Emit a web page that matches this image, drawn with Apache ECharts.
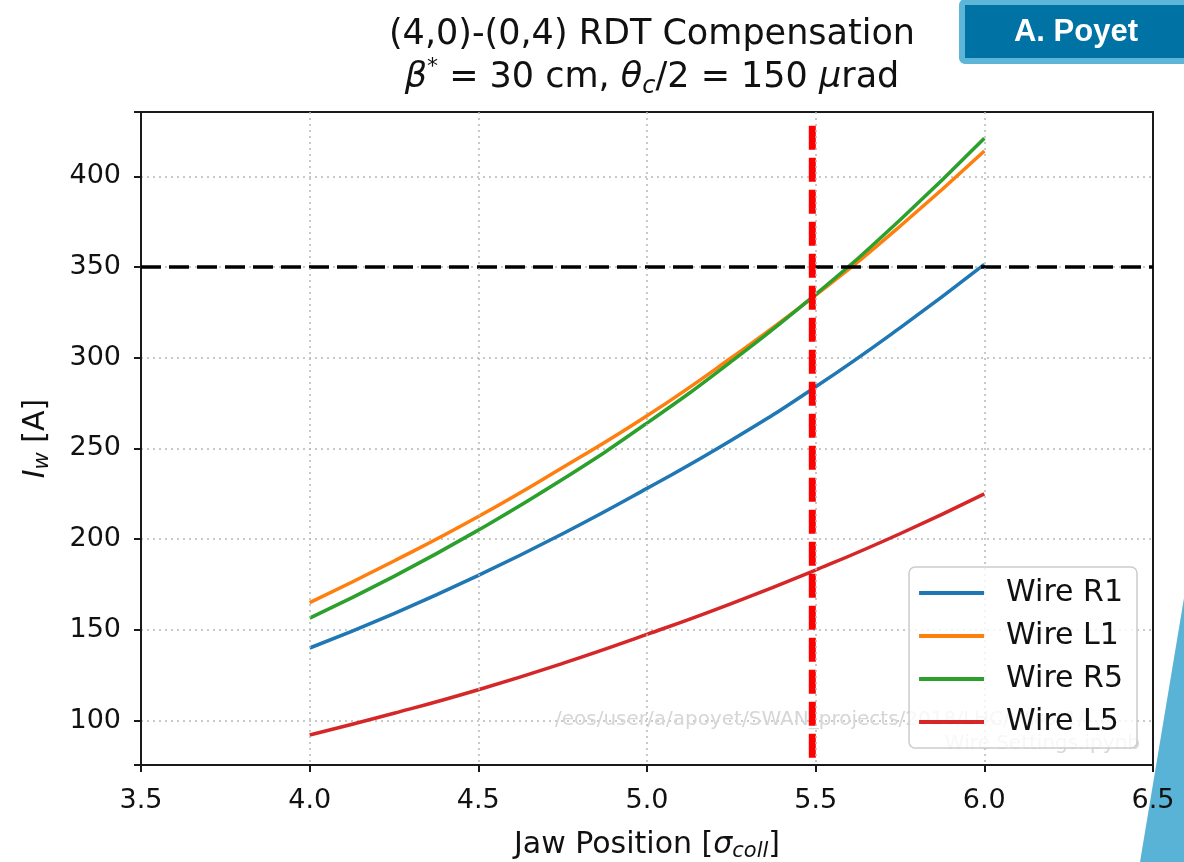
<!DOCTYPE html>
<html>
<head>
<meta charset="utf-8">
<script src="https://cdn.jsdelivr.net/npm/echarts@6/dist/echarts.min.js"></script>
<style>
html,body{margin:0;padding:0;background:#fff;}
#chart{width:1184px;height:862px;}
</style>
</head>
<body>
<div id="chart"></div>
<script>
// ---- data ----
const jawPos = [4.0, 4.25, 4.5, 4.75, 5.0, 5.25, 5.5, 5.75, 6.0];
const wireR1 = [140, 159, 180, 203, 228, 254.5, 284, 316.5, 351.5];
const wireL1 = [165, 188, 212.5, 239.5, 268, 300, 334.5, 372.5, 414];
const wireR5 = [156.5, 179.5, 205, 233, 264, 298, 335, 376, 421];
const wireL5 = [92, 104, 117, 131.5, 147.5, 164.5, 183, 203, 225];
const seriesNames = ['Wire R1', 'Wire L1', 'Wire R5', 'Wire L5'];
const limitX = [3.5, 6.5];
const limitY = [350, 350];
const jawLineX = [5.49, 5.49];
const jawLineY = [79.5, 430];
const xTickLabels = ['3.5', '4.0', '4.5', '5.0', '5.5', '6.0', '6.5'];
const yTickLabels = ['100', '150', '200', '250', '300', '350', '400'];

const FONT = "'DejaVu Sans', sans-serif";
const colors = ['#1f77b4', '#ff7f0e', '#2ca02c', '#d62728'];
const values = [wireR1, wireL1, wireR5, wireL5];

function pairs(xs, ys) { return xs.map((x, i) => [x, ys[i]]); }

const series = seriesNames.map((name, k) => ({
  name: name,
  type: 'line',
  data: pairs(jawPos, values[k]),
  smooth: true,
  showSymbol: false,
  symbol: 'none',
  lineStyle: { color: colors[k], width: 3.5 },
  itemStyle: { color: colors[k] },
  z: 3
}));
series.push({
  name: 'limit',
  type: 'line',
  data: pairs(limitX, limitY),
  showSymbol: false, symbol: 'none',
  lineStyle: { color: '#000', width: 3.5, type: [20, 8] },
  silent: true, z: 4
});
series.push({
  name: 'jaw',
  type: 'line',
  data: pairs(jawLineX, jawLineY),
  showSymbol: false, symbol: 'none',
  lineStyle: { color: '#ff0000', width: 7, type: [24, 8] },
  silent: true, z: 5
});

const chart = echarts.init(document.getElementById('chart'), null, { renderer: 'canvas' });
chart.setOption({
  animation: false,
  backgroundColor: '#fff',
  title: {
    left: 647,
    top: 8,
    textAlign: 'center',
    text: '(4,0)-(0,4) RDT Compensation\n{it|β}{sup|*} = 30 cm, {it|θ}{sub|c}/2 = 150 {it|μ}rad',
    textStyle: {
      fontFamily: FONT, fontSize: 35, fontWeight: 'normal', color: '#111', lineHeight: 43,
      rich: {
        it: { fontFamily: FONT, fontSize: 35, fontStyle: 'italic', color: '#111' },
        sup: { fontFamily: FONT, fontSize: 22, color: '#111', verticalAlign: 'top', lineHeight: 43, padding: [0, 0, 14, 0] },
        sub: { fontFamily: FONT, fontSize: 24, fontStyle: 'italic', color: '#111', verticalAlign: 'bottom', padding: [12, 0, 0, 0] }
      }
    }
  },
  grid: {
    left: 141, right: 31, top: 112, bottom: 97,
    outerBoundsMode: 'none',
    show: true, borderColor: '#1a1a1a', borderWidth: 2, backgroundColor: 'transparent'
  },
  legend: {
    data: seriesNames,
    orient: 'vertical',
    right: 47,
    top: 567,
    icon: 'rect',
    itemWidth: 65,
    itemHeight: 4,
    itemGap: 13,
    padding: [11, 14, 11, 10],
    backgroundColor: 'rgba(255,255,255,0.8)',
    borderColor: '#cccccc',
    borderWidth: 1.5,
    borderRadius: 6,
    textStyle: { fontFamily: FONT, fontSize: 30, color: '#111', padding: [0, 0, 0, 17] },
    z: 10
  },
  xAxis: {
    type: 'value',
    z: 6,
    min: 3.5, max: 6.5, interval: 0.5,
    name: '{n|Jaw Position [}{it|σ}{sub|coll}{n|]}',
    nameLocation: 'middle',
    nameGap: 64,
    nameTextStyle: {
      rich: {
        n: { fontFamily: FONT, fontSize: 30, color: '#111' },
        it: { fontFamily: FONT, fontSize: 30, fontStyle: 'italic', color: '#111' },
        sub: { fontFamily: FONT, fontSize: 21, fontStyle: 'italic', color: '#111', verticalAlign: 'bottom', padding: [12, 0, 0, 0] }
      }
    },
    axisLine: { show: true, onZero: false, lineStyle: { color: '#1a1a1a', width: 2 } },
    axisTick: { show: true, inside: false, length: 7, lineStyle: { color: '#1a1a1a', width: 2 } },
    axisLabel: {
      margin: 22, fontFamily: FONT, fontSize: 27, color: '#111',
      formatter: v => { const s = v.toFixed(1); return xTickLabels.includes(s) ? s : ''; }
    },
    splitLine: { show: true, showMinLine: false, showMaxLine: false, lineStyle: { color: '#b8b8b8', width: 1.5, type: [2, 4] } }
  },
  yAxis: {
    type: 'value',
    min: 75.5, max: 435.5, splitNumber: 7,
    name: '{it|I}{sub|w}{n| [A]}',
    nameLocation: 'middle',
    nameRotate: 90,
    nameGap: 88,
    nameTextStyle: {
      rich: {
        n: { fontFamily: FONT, fontSize: 30, color: '#111' },
        it: { fontFamily: FONT, fontSize: 30, fontStyle: 'italic', color: '#111' },
        sub: { fontFamily: FONT, fontSize: 21, fontStyle: 'italic', color: '#111', verticalAlign: 'bottom', padding: [12, 0, 0, 0] }
      }
    },
    axisLine: { show: true, onZero: false, lineStyle: { color: '#1a1a1a', width: 2 } },
    axisTick: { show: true, inside: false, length: 7, lineStyle: { color: '#1a1a1a', width: 2 } },
    axisLabel: {
      margin: 20, fontFamily: FONT, fontSize: 27, color: '#111',
      formatter: v => { const s = String(Math.round(v)); return (yTickLabels.includes(s) && Math.abs(v - Math.round(v)) < 1e-6) ? s : ''; }
    },
    splitLine: { show: true, showMinLine: false, showMaxLine: false, lineStyle: { color: '#b8b8b8', width: 1.5, type: [2, 4] } }
  },
  graphic: [
    {
      type: 'text', z: 2, left: 555, top: 710,
      style: { text: '/eos/user/a/apoyet/SWAN_projects/2018/LHC/Wire_1/', fill: '#d6d6d6', font: "20px 'DejaVu Sans'" }
    },
    {
      type: 'text', z: 2, right: 44, top: 734,
      style: { text: 'Wire Settings.ipynb', fill: '#d6d6d6', font: "20px 'DejaVu Sans'" }
    },
    {
      type: 'rect', z: 20,
      shape: { x: 962, y: 2, width: 230, height: 59, r: 3 },
      style: { fill: '#0072a4', stroke: '#5db6d8', lineWidth: 6 }
    },
    {
      type: 'text', z: 21, x: 1076, y: 32,
      style: { text: 'A. Poyet', fill: '#ffffff', font: "bold 31px 'Liberation Sans', Arial, sans-serif", align: 'center', verticalAlign: 'middle' }
    },
    {
      type: 'polygon', z: 1,
      shape: { points: [[1184, 598], [1184, 862], [1140, 862]] },
      style: { fill: '#59b3d6' }
    }
  ],
  series: series
});
</script>
</body>
</html>
